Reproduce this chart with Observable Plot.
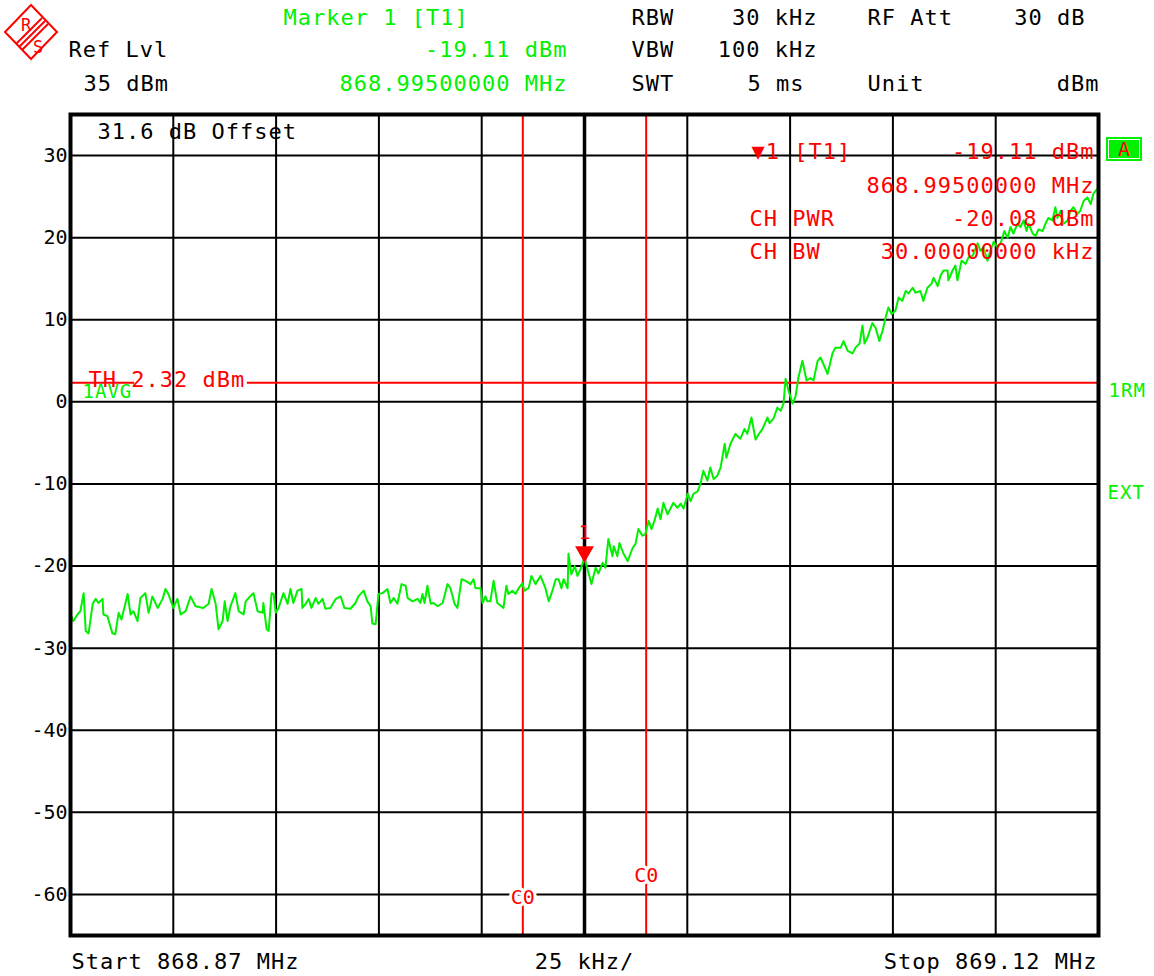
<!DOCTYPE html>
<html>
<head>
<meta charset="utf-8">
<script src="https://cdn.jsdelivr.net/npm/d3@7"></script>
<script src="https://cdn.jsdelivr.net/npm/@observablehq/plot@0.6"></script>
<style>
  body { margin: 0; background: #fff; }
  #wrap { position: relative; width: 1154px; height: 976px; overflow: hidden; background: #fff; }
  #chart { position: absolute; left: 0; top: 0; }
  #logo { position: absolute; left: 0; top: 0; }
  #abox { position: absolute; left: 1106px; top: 137px; width: 36px; height: 24px; background: #00f000; box-sizing: border-box; }
  #abox .inner { position: absolute; left: 2px; top: 2px; right: 2px; bottom: 2px; border: 1px solid #fff; }
  #abox .lbl { position: absolute; left: 0; top: 0; width: 36px; height: 24px; line-height: 24px; text-align: center; color: #ff0000; font: 20px "DejaVu Sans Mono", monospace; }
  .ls text { letter-spacing: 1px; }
</style>
</head>
<body>
<div id="wrap">
  <div id="chart"></div>
  <svg id="logo" width="64" height="66">
    <g stroke="#ff0000" fill="none" stroke-width="2">
      <polygon points="31,5 57,32 31,59 5,32"/>
      <line x1="16" y1="44" x2="42" y2="18"/>
      <line x1="19" y1="47" x2="45" y2="21"/>
      <line x1="22" y1="50" x2="48" y2="24"/>
    </g>
    <text x="21" y="31" fill="#ff0000" font-family="DejaVu Sans Mono" font-size="17">R</text>
    <text x="33" y="53" fill="#ff0000" font-family="DejaVu Sans Mono" font-size="17">S</text>
  </svg>
  <div id="abox"><div class="inner"></div><div class="lbl">A</div></div>
</div>
<script>
// ---- instrument settings / data ----
const startMHz = 868.87;
const stopMHz = 869.12;
const divKHz = 25;
const refLevel = 35;
const bottomLevel = -65;
const yTicks = [30, 20, 10, 0, -10, -20, -30, -40, -50, -60];
const markerMHz = 868.995;
const markerDBm = -19.11;
const chPwrDBm = -20.08;
const chBwKHz = 30;
const thresholdDBm = 2.32;
const thGapKHz = [15.6, 43.0];

// trace: [kHz offset from start, level dBm]
const tracePoints = [
[0,-25.9],[0.7,-26.7],[1.7,-25.9],[2.4,-25.5],[3.2,-23.3],[3.7,-27.9],[4.4,-28.2],[5.4,-24.6],[6.1,-24.0],[6.8,-24.5],[7.8,-24.0],[8.0,-25.9],[9.0,-26.1],[9.2,-26.5],[10.2,-28.2],[10.9,-28.3],[11.7,-25.7],[12.4,-26.5],[13.9,-23.4],[14.6,-25.9],[15.3,-25.5],[16.3,-26.7],[17.0,-23.9],[18.2,-23.3],[19.0,-25.7],[19.9,-23.7],[21.2,-25.1],[22.4,-24.0],[23.1,-22.8],[23.8,-23.4],[25.0,-25.1],[26.0,-24.0],[26.8,-25.9],[28.0,-25.5],[29.2,-23.7],[30.4,-24.9],[32.3,-25.1],[33.6,-24.6],[34.3,-22.8],[35.3,-24.6],[36.0,-27.7],[37.0,-26.7],[37.5,-24.3],[38.2,-26.7],[38.9,-24.9],[40.1,-23.3],[40.9,-25.5],[42.1,-25.9],
[42.6,-24.3],[43.3,-23.9],[44.5,-23.3],[45.5,-25.5],[46.7,-25.7],[46.9,-24.5],[47.7,-27.7],[48.2,-27.9],[48.9,-23.3],[49.4,-23.4],[49.9,-25.7],[50.6,-25.1],[51.8,-23.3],[52.8,-24.6],[53.5,-22.8],[54.2,-24.5],[55.2,-23.0],[56.2,-22.8],[56.4,-25.1],[57.2,-24.6],[57.9,-24.0],[58.6,-25.1],[59.6,-23.9],[60.3,-24.6],[61.3,-24.0],[62.0,-25.2],[63.2,-25.1],[64.5,-24.0],[65.7,-23.7],[66.6,-25.1],[68.1,-25.2],[69.3,-24.5],[70.0,-23.7],[71.3,-23.0],[72.2,-24.3],[73.0,-24.9],[73.4,-27.0],[74.2,-27.1],[74.9,-23.4],[75.9,-23.3],[77.1,-22.8],[77.8,-24.5],[78.6,-23.9],[79.5,-24.6],[80.5,-22.2],[81.5,-22.4],[82.0,-23.9],[83.2,-24.3],[84.4,-24.0],
[85.1,-24.5],[85.6,-23.4],[86.1,-24.5],[86.8,-22.4],[87.6,-24.6],[88.3,-24.5],[89.3,-24.9],[90.5,-24.5],[91.7,-22.2],[92.4,-22.7],[93.4,-24.6],[94.1,-25.1],[95.1,-21.6],[96.1,-21.8],[97.3,-22.2],[98.0,-21.6],[98.5,-22.7],[99.7,-22.7],[100.2,-24.5],[100.9,-23.7],[101.4,-24.3],[102.1,-24.3],[102.9,-21.8],[103.8,-24.5],[104.8,-24.9],[105.3,-25.1],[106.0,-22.4],[106.5,-23.4],[107.5,-23.0],[108.2,-23.4],[109.0,-22.7],[109.9,-22.1],[110.4,-23.0],[111.4,-22.7],[112.1,-21.2],[113.1,-22.2],[114.3,-21.2],[115.5,-22.7],[116.3,-24.3],[117.2,-23.0],[118.0,-21.6],[118.7,-21.6],[119.4,-22.7],[119.9,-21.6],[120.9,-22.7],[121.1,-18.5],[121.8,-21.0],[122.6,-20.0],[123.3,-21.2],[124.0,-20.4],[125.0,-19.1],[125.7,-20.3],[126.7,-22.2],[127.7,-20.2],[128.4,-20.9],[129.4,-19.6],[130.1,-20.2],[130.8,-16.7],[131.8,-18.8],[132.1,-17.6],[133.0,-18.8],[133.5,-17.2],[134.5,-18.5],[135.5,-19.4],[136.7,-17.8],[137.4,-17.3],[138.1,-15.5],[139.1,-16.3],[139.8,-16.1],[140.6,-14.5],[141.3,-15.5],[142.0,-14.5],[142.8,-13.0],[143.5,-14.3],[144.2,-12.3],[145.2,-13.7],[145.9,-13.0],[146.6,-12.3],[147.6,-12.9],[148.4,-12.4],[149.1,-13.0],[150.1,-11.2],[150.8,-12.1],[151.5,-11.2],[152.5,-10.9],[153.2,-10.0],[153.9,-8.4],[154.9,-9.6],[155.6,-8.0],[156.4,-9.4],[157.3,-9.0],[158.1,-8.0],[159.1,-5.1],[159.5,-6.8],[160.5,-5.1],[161.7,-3.9],[162.9,-4.5],[163.9,-3.3],[164.6,-3.9],[165.6,-1.9],[166.6,-4.6],[167.3,-4.0],[168.3,-3.3],[169.5,-1.9],[170.0,-2.6],[171.0,-2.0],[171.9,-0.7],[172.7,-1.1],[173.4,-0.2],
[173.9,2.8],[174.6,1.4],[175.6,-0.2],[176.3,0.6],[177.0,2.9],[178.0,5.0],[179.0,2.6],[180.0,2.9],[180.7,2.6],[181.7,5.0],[182.4,5.4],[183.1,4.6],[184.1,3.4],[185.3,5.9],[186.0,6.6],[187.3,6.6],[188.0,7.4],[189.0,6.2],[190.2,5.9],[190.9,6.6],[191.9,7.1],[192.6,9.3],[193.1,7.1],[193.8,7.8],[195.0,9.6],[195.8,9.0],[196.7,7.4],[197.5,8.7],[198.2,10.2],[198.9,11.5],[199.7,10.7],[200.6,11.1],[201.4,12.7],[202.3,12.3],[203.1,13.5],[203.8,13.2],[204.8,13.9],[205.5,13.3],[206.7,13.5],[207.4,12.3],[208.4,13.9],[209.4,14.4],[209.9,15.1],[210.9,14.1],[211.6,15.4],[212.3,16.0],[213.3,16.0],[213.5,14.8],[214.5,16.0],[215.2,16.6],[215.7,14.8],[216.7,17.2],[217.7,16.8],[218.4,17.6],[219.4,17.8],[220.6,19.3],[221.3,18.4],[222.0,18.8],[223.0,17.2],[223.7,18.4],[224.5,19.5],[225.4,18.8],[226.2,19.3],[227.1,20.8],[227.9,20.0],[228.6,21.3],[229.3,20.5],[230.3,21.7],[231.0,21.3],[231.8,22.1],[232.5,20.8],[233.0,21.7],[234.0,20.5],[234.7,20.2],[235.4,21.0],[236.4,20.8],[237.1,21.7],[237.8,22.4],[238.8,22.1],[239.5,23.7],[240.0,22.4],[240.8,23.3],[241.5,21.7],[242.5,22.1],[243.2,23.3],[243.9,23.7],[244.9,22.9],[245.6,23.3],[246.4,24.5],[247.3,24.9],[248.1,24.1],[248.8,25.4],[249.8,26.0]
];

// text labels
const headerGreen = ["Marker 1 [T1]", "-19.11 dBm", "868.99500000 MHz"];
const headerBlack = ["Ref Lvl", "35 dBm", "RBW", "30 kHz", "RF Att", "30 dB", "VBW", "100 kHz", "SWT", "5 ms", "Unit", "dBm"];
const markerBox = ["\u25BC1 [T1]", "-19.11 dBm", "868.99500000 MHz", "CH PWR", "-20.08 dBm", "CH BW", "30.00000000 kHz"];
const footer = ["Start 868.87 MHz", "25 kHz/", "Stop 869.12 MHz"];

// ---- build ----
const GREEN = "#00f000", RED = "#ff0000";
const centerMHz = startMHz + 5 * divKHz / 1000;
const divLines = d3.range(1, 10).filter(i => i !== 5).map(i => startMHz + i * divKHz / 1000);
const trace = tracePoints.map(([k, v]) => ({f: startMHz + k / 1000, dBm: v}));
const chLines = [markerMHz - chBwKHz / 2000, markerMHz + chBwKHz / 2000];
const thSegs = [
  {x1: startMHz, x2: startMHz + thGapKHz[0] / 1000, y: thresholdDBm},
  {x1: startMHz + thGapKHz[1] / 1000, x2: stopMHz, y: thresholdDBm}
];

const FL = 70, FT = 114;
const note = (txt, px, py, o = {}) => Plot.text([txt], {
  text: d => d, frameAnchor: "top-left", dx: px - FL, dy: py - FT,
  textAnchor: o.anchor || "start", lineAnchor: "middle",
  fill: o.fill || "black", fontSize: o.size || 22, className: "ls"
});

const chart = Plot.plot({
  width: 1154, height: 976,
  marginLeft: 70, marginRight: 56, marginTop: 114, marginBottom: 41,
  style: {background: "white", fontFamily: "'DejaVu Sans Mono', monospace", overflow: "visible"},
  x: {domain: [startMHz, stopMHz], axis: null},
  y: {domain: [bottomLevel, refLevel], axis: null},
  marks: [
    Plot.ruleY(yTicks, {stroke: "black", strokeWidth: 2}),
    Plot.ruleX(divLines, {stroke: "black", strokeWidth: 2}),
    Plot.ruleX([centerMHz], {stroke: "black", strokeWidth: 3.5}),
    Plot.ruleX(chLines, {stroke: RED, strokeWidth: 2}),
    Plot.ruleY(thSegs, {y: "y", x1: "x1", x2: "x2", stroke: RED, strokeWidth: 2}),
    Plot.line(trace, {x: "f", y: "dBm", stroke: GREEN, strokeWidth: 2}),
    Plot.dot([{f: markerMHz, v: markerDBm}], {x: "f", y: "v", symbol: "triangle", rotate: 180, r: 7, fill: RED, dy: -7}),
    Plot.text([{f: markerMHz, v: markerDBm}], {x: "f", y: "v", text: () => "1", fill: RED, fontSize: 20, dy: -26}),
    Plot.frame({stroke: "black", strokeWidth: 4}),
    Plot.axisY({ticks: yTicks, tickSize: 0, tickPadding: 3, fontSize: 20, label: null, tickFormat: d => String(d), fill: "black"}),
    // threshold label
    Plot.text([thresholdDBm], {x: () => startMHz, y: d => d, text: d => `TH ${d.toFixed(2)} dBm`, textAnchor: "start", dx: 18, dy: -3, fill: RED, fontSize: 22, className: "ls"}),
    Plot.text([thresholdDBm], {x: () => startMHz, y: d => d, text: () => "1AVG", textAnchor: "start", dx: 12, dy: 9, fill: GREEN, fontSize: 19, className: "ls"}),
    // channel labels
    Plot.text([chLines[0]], {x: d => d, frameAnchor: "bottom", lineAnchor: "middle", dy: -38, text: () => "C0", fill: RED, fontSize: 20, stroke: "white", strokeWidth: 6}),
    Plot.text([chLines[1]], {x: d => d, frameAnchor: "bottom", lineAnchor: "middle", dy: -60, text: () => "C0", fill: RED, fontSize: 20, stroke: "white", strokeWidth: 6}),
    // offset note
    note("31.6 dB Offset", 97, 131),
    // marker box (red)
    note(markerBox[0], 751, 151, {fill: RED}),
    note(markerBox[1], 1094, 151, {fill: RED, anchor: "end"}),
    note(markerBox[2], 1094, 185, {fill: RED, anchor: "end"}),
    note(markerBox[3], 749, 218, {fill: RED}),
    note(markerBox[4], 1094, 218, {fill: RED, anchor: "end"}),
    note(markerBox[5], 749, 251, {fill: RED}),
    note(markerBox[6], 1094, 251, {fill: RED, anchor: "end"}),
    // right-side labels
    note("1RM", 1108, 390, {fill: GREEN, size: 19}),
    note("EXT", 1107, 492, {fill: GREEN, size: 19}),
    // header
    note(headerGreen[0], 283, 17, {fill: GREEN}),
    note(headerGreen[1], 567, 49, {fill: GREEN, anchor: "end"}),
    note(headerGreen[2], 567, 83, {fill: GREEN, anchor: "end"}),
    note(headerBlack[0], 68, 49),
    note(headerBlack[1], 83, 83),
    note(headerBlack[2], 631, 17),
    note(headerBlack[3], 817, 17, {anchor: "end"}),
    note(headerBlack[4], 867, 17),
    note(headerBlack[5], 1085, 17, {anchor: "end"}),
    note(headerBlack[6], 631, 49),
    note(headerBlack[7], 817, 49, {anchor: "end"}),
    note(headerBlack[8], 631, 83),
    note(headerBlack[9], 804, 83, {anchor: "end"}),
    note(headerBlack[10], 867, 83),
    note(headerBlack[11], 1099, 83, {anchor: "end"}),
    // footer
    Plot.text([footer[0]], {x: () => startMHz, frameAnchor: "bottom", lineAnchor: "middle", dy: 26, dx: 1, text: d => d, textAnchor: "start", fontSize: 22, className: "ls"}),
    Plot.text([footer[1]], {x: () => centerMHz, frameAnchor: "bottom", lineAnchor: "middle", dy: 26, text: d => d, textAnchor: "middle", fontSize: 22, className: "ls"}),
    Plot.text([footer[2]], {x: () => stopMHz, frameAnchor: "bottom", lineAnchor: "middle", dy: 26, dx: -1, text: d => d, textAnchor: "end", fontSize: 22, className: "ls"})
  ]
});
document.getElementById("chart").appendChild(chart);
</script>
</body>
</html>
